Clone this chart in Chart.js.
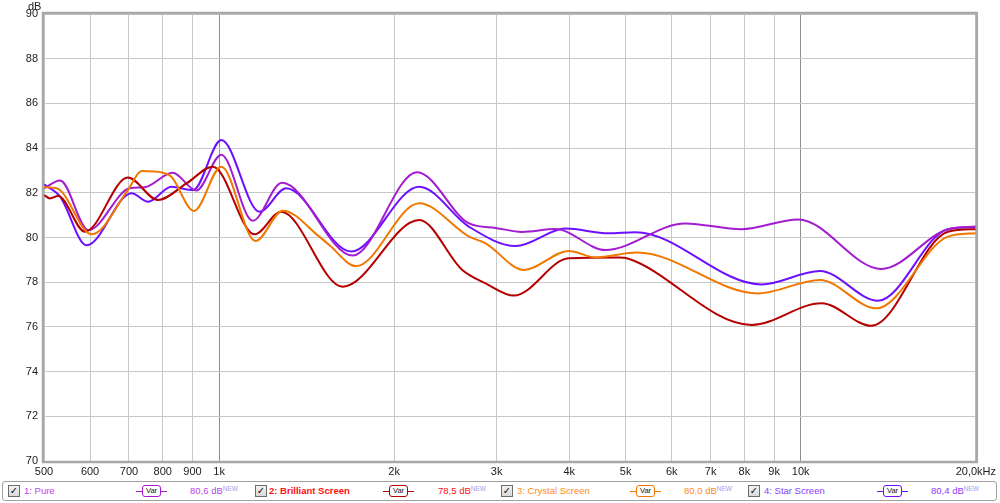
<!DOCTYPE html>
<html>
<head>
<meta charset="utf-8">
<script src="https://cdn.jsdelivr.net/npm/chart.js@4/dist/chart.umd.min.js"></script>
<style>
  html,body{margin:0;padding:0;background:#fff;}
  #wrap{position:relative;width:1000px;height:503px;overflow:hidden;font-family:"Liberation Sans",Arial,sans-serif;}
  #c{position:absolute;left:0;top:0;}
  .abs{position:absolute;white-space:nowrap;}
  #dbl{left:28px;top:0px;font-size:11px;color:#222;}
  #legend{position:absolute;left:2px;top:481px;width:993px;height:18px;border:1px solid #a0a0a0;border-radius:3px;background:#fff;}
  .cb{position:absolute;top:3px;width:10px;height:10px;border:1px solid #6c6c6c;background:linear-gradient(#f4f4f4,#d8d8d8);font-size:10px;line-height:10px;text-align:center;color:#111;font-family:"DejaVu Sans",sans-serif;font-weight:bold;}
  .lab{position:absolute;top:3px;font-size:9.5px;line-height:12px;}
  .var{position:absolute;top:3px;width:31px;height:12px;}
  .var .stub{position:absolute;top:5.5px;height:1.5px;width:31px;left:0;}
  .var .box{position:absolute;left:6px;top:0;width:17px;height:10px;border:1.5px solid;border-radius:3px;background:#fff;font-size:7.5px;line-height:10px;text-align:center;color:#111;}
  .val{position:absolute;top:3px;font-size:9.5px;line-height:12px;}
  .val sup{font-size:6.5px;color:#a0a0f0;vertical-align:top;position:relative;top:-2px;}
</style>
</head>
<body>
<div id="wrap">
  <canvas id="c" width="1000" height="503"></canvas>
  <div id="dbl" class="abs">dB</div>
  <div id="legend"></div>
</div>
<script>
// ---- data (frequency in Hz, level in dB) ----
const xTickValues = [500, 600, 700, 800, 900, 1000, 2000, 3000, 4000, 5000, 6000, 7000, 8000, 9000, 10000, 20000];
const xTickLabels = ["500", "600", "700", "800", "900", "1k", "2k", "3k", "4k", "5k", "6k", "7k", "8k", "9k", "10k", "20,0kHz"];

const seriesNames = ["1: Pure", "2: Brilliant Screen", "3: Crystal Screen", "4: Star Screen"];
const seriesLevels = ["80,6 dB", "78,5 dB", "80,0 dB", "80,4 dB"];

const pureHz = [500, 533, 596, 702, 745, 832, 914, 1009, 1142, 1283, 1696, 2190, 2690, 2988, 3317, 3788, 4614, 6330, 7906, 9905, 13758, 17906, 20000];
const pureDb = [82.2, 82.55, 80.33, 82.2, 82.25, 82.9, 82.1, 83.7, 80.75, 82.45, 79.19, 82.92, 80.63, 80.43, 80.25, 80.38, 79.44, 80.63, 80.37, 80.81, 78.59, 80.37, 80.49];

const brilliantHz = [500, 512, 529, 588, 697, 785, 879, 976, 1151, 1278, 1631, 2208, 2619, 2872, 3213, 3993, 4864, 5059, 8236, 10857, 13227, 17906, 20000];
const brilliantDb = [81.9, 81.75, 81.86, 80.26, 82.68, 81.68, 82.42, 83.17, 80.14, 81.15, 77.8, 80.78, 78.55, 77.95, 77.4, 79.07, 79.1, 79.05, 76.09, 77.06, 76.05, 80.26, 80.37];

const crystalHz = [500, 526, 604, 697, 736, 801, 828, 905, 1009, 1155, 1287, 1487, 1547, 1719, 2208, 2690, 2872, 3342, 3993, 4436, 5228, 8455, 10790, 13489, 17906, 20000];
const crystalDb = [82.25, 82.2, 80.14, 82.12, 82.97, 82.9, 82.72, 81.19, 83.17, 79.84, 81.2, 80.04, 79.66, 78.72, 81.53, 80.04, 79.74, 78.55, 79.4, 79.11, 79.33, 77.5, 78.1, 76.83, 80.04, 80.19];

const starHz = [500, 533, 592, 707, 755, 828, 902, 1009, 1174, 1304, 1686, 2208, 2690, 3235, 3941, 4675, 5195, 8566, 10790, 13580, 17906, 20000];
const starDb = [82.38, 81.83, 79.65, 81.98, 81.6, 82.27, 82.12, 84.36, 81.15, 82.2, 79.37, 82.27, 80.48, 79.62, 80.4, 80.19, 80.24, 77.9, 78.5, 77.17, 80.37, 80.46];

const lineColors = ["#a31ccf", "#b40000", "#f07800", "#6c10ff"];
const labelColors = ["#c040f0", "#ff1010", "#ff8c1a", "#8a3cff"];

// ---- build chart ----
const toPts = (hz, db) => hz.map((f, i) => ({ x: f, y: db[i] }));
const seriesData = [toPts(pureHz, pureDb), toPts(brilliantHz, brilliantDb), toPts(crystalHz, crystalDb), toPts(starHz, starDb)];
const drawOrder = [2, 1, 0, 3];
const datasets = drawOrder.map(i => ({
  label: seriesNames[i],
  data: seriesData[i],
  borderColor: lineColors[i],
  borderWidth: 2,
  pointRadius: 0,
  fill: false,
  cubicInterpolationMode: 'monotone'
}));

const framePlugin = {
  id: 'frame',
  afterDraw(chart) {
    const a = chart.chartArea, ctx = chart.ctx;
    ctx.save();
    ctx.strokeStyle = '#a8a8a8';
    ctx.lineWidth = 2.5;
    ctx.strokeRect(a.left - 1, a.top - 1, a.right - a.left + 2, a.bottom - a.top + 2);
    ctx.restore();
  }
};

new Chart(document.getElementById('c'), {
  type: 'line',
  data: { datasets },
  options: {
    responsive: false,
    animation: false,
    events: [],
    layout: { padding: { left: 0, right: 22, top: 14, bottom: 0 } },
    plugins: { legend: { display: false }, tooltip: { enabled: false } },
    scales: {
      x: {
        type: 'logarithmic',
        min: 500, max: 20000,
        afterBuildTicks: s => { s.ticks = xTickValues.map(v => ({ value: v })); },
        afterFit: s => { s.height = 42; },
        border: { display: false },
        grid: {
          drawTicks: false,
          color: c => (c.tick && (c.tick.value === 1000 || c.tick.value === 10000)) ? '#8e8e8e' : '#c8c8c8',
          lineWidth: 1
        },
        ticks: {
          autoSkip: false, maxRotation: 0, padding: 4,
          color: '#222',
          font: { family: 'Liberation Sans', size: 11 },
          callback: (v) => { const k = xTickValues.indexOf(v); return k >= 0 ? xTickLabels[k] : ''; }
        }
      },
      y: {
        min: 70, max: 90,
        afterFit: s => { s.width = 44; },
        border: { display: false },
        grid: { drawTicks: false, color: '#c8c8c8', lineWidth: 1 },
        ticks: {
          stepSize: 2, padding: 6, color: '#222',
          font: { family: 'Liberation Sans', size: 11 }
        }
      }
    }
  },
  plugins: [framePlugin]
});

// ---- legend (HTML) ----
const legend = document.getElementById('legend');
const cbX = [5, 252, 498, 745];
const labX = [21, 266, 514, 761];
const varX = [133, 380, 627, 874];
const valX = [187, 435, 681, 928];
seriesNames.forEach((name, i) => {
  const cb = document.createElement('div'); cb.className = 'cb'; cb.style.left = cbX[i] + 'px'; cb.textContent = '✓'; legend.appendChild(cb);
  const lab = document.createElement('div'); lab.className = 'lab'; lab.style.left = labX[i] + 'px'; lab.style.color = labelColors[i];
  if (i === 1) lab.style.fontWeight = 'bold';
  lab.textContent = name; legend.appendChild(lab);
  const v = document.createElement('div'); v.className = 'var'; v.style.left = varX[i] + 'px';
  v.innerHTML = '<div class="stub" style="background:' + lineColors[i] + '"></div><div class="box" style="border-color:' + lineColors[i] + '">Var</div>';
  legend.appendChild(v);
  const val = document.createElement('div'); val.className = 'val'; val.style.left = valX[i] + 'px'; val.style.color = labelColors[i];
  val.innerHTML = seriesLevels[i] + '<sup>NEW</sup>';
  legend.appendChild(val);
});
</script>
</body>
</html>
